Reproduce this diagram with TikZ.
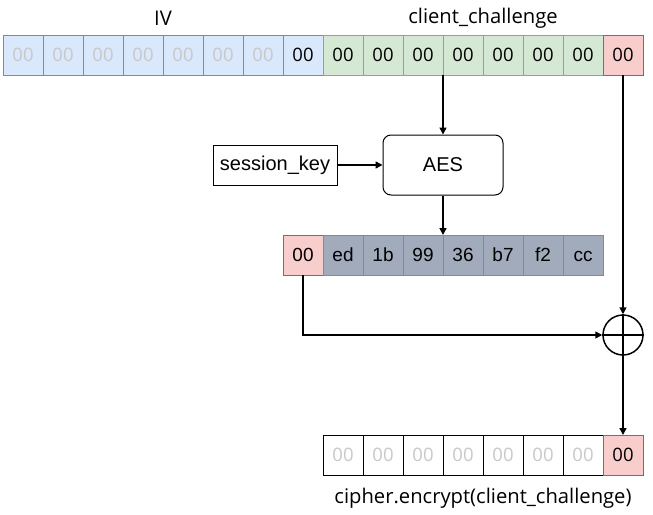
\documentclass[tikz,border=0pt]{standalone}
\usepackage{fontspec}
\setmainfont{Open Sans}
\newfontfamily\arialf{Liberation Sans}
\usetikzlibrary{arrows.meta}
\definecolor{bfill}{HTML}{DAE8FC}
\definecolor{bline}{HTML}{6C8EBF}
\definecolor{gfill}{HTML}{D5E8D4}
\definecolor{gline}{HTML}{82B366}
\definecolor{rfill}{HTML}{F8CECC}
\definecolor{rline}{HTML}{B85450}
\definecolor{kfill}{RGB}{161,171,187}
\definecolor{faded}{HTML}{C8C8C8}
\tikzset{
  cell/.style={minimum width=40pt,minimum height=40pt,inner sep=0pt,outer sep=0pt,line width=1pt,font=\fontsize{18.5}{18.5}\selectfont,text height=13.3pt,text depth=0pt,anchor=north west},
  bcell/.style={cell,draw=bline,fill=bfill},
  gcell/.style={cell,draw=gline,fill=gfill},
  rcell/.style={cell,draw=rline,fill=rfill},
  kcell/.style={cell,draw=bline,fill=kfill,font=\arialf\fontsize{19}{19}\selectfont},
  wcell/.style={cell,draw=black,fill=white},
  lbl/.style={font=\fontsize{20.2}{21}\selectfont,inner sep=0pt},
  conn/.style={line width=1.5pt,-{Triangle[length=7pt,width=7pt]}},
}
\begin{document}
\begin{tikzpicture}[x=1pt,y=-1pt]
\useasboundingbox (0,0) rectangle (653,514);
% top row
\foreach \i in {0,...,6} {
  \node[bcell,text=faded] (iv\i) at (3+40*\i,35) {00};
}
\node[bcell] (iv7) at (283,35) {00};
\foreach \i in {0,...,6} {
  \node[gcell] (cc\i) at (323+40*\i,35) {00};
}
\node[rcell] (cc7) at (603,35) {00};
\node[lbl] (ivl) at (163,18) {IV};
\node[lbl] (ccl) at (483,18) {client\_challenge};
% AES and key
\node[draw,line width=1pt,rounded corners=8pt,minimum width=120pt,minimum height=60pt,inner sep=0pt,font=\arialf\fontsize{20}{20}\selectfont] (aes) at (443,165) {AES};
\node[draw,line width=1pt,minimum width=124pt,minimum height=40pt,inner sep=0pt,font=\arialf\fontsize{20}{20}\selectfont] (key) at (275,165) {session\_key};
% middle row
\node[rcell,font=\arialf\fontsize{19}{19}\selectfont] (ks0) at (283,235) {00};
\foreach \t [count=\i] in {ed,1b,99,36,b7,f2,cc} {
  \node[kcell] (ks\i) at (283+40*\i,235) {\t};
}
% xor
\node[draw,circle,line width=1.5pt,minimum size=40pt,inner sep=0pt] (xor) at (623,335) {};
\draw[line width=1.5pt] (xor.north) -- (xor.south) (xor.west) -- (xor.east);
% bottom row
\foreach \i in {0,...,6} {
  \node[wcell,text=faded] (ct\i) at (323+40*\i,435) {00};
}
\node[rcell] (ct7) at (603,435) {00};
\node[lbl] (ctl) at (483,498) {cipher.encrypt(client\_challenge)};
% connectors
\coordinate (a1) at (443,75);
\draw[conn] (a1) -- (aes.north);
\draw[conn] (key.east) -- (aes.west);
\coordinate (a2) at (443,235);
\draw[conn] (aes.south) -- (a2);
\draw[conn] (cc7.south) -- (xor.north);
\draw[conn] (ks0.south) |- (xor.west);
\draw[conn] (xor.south) -- (ct7.north);
\end{tikzpicture}
\end{document}
